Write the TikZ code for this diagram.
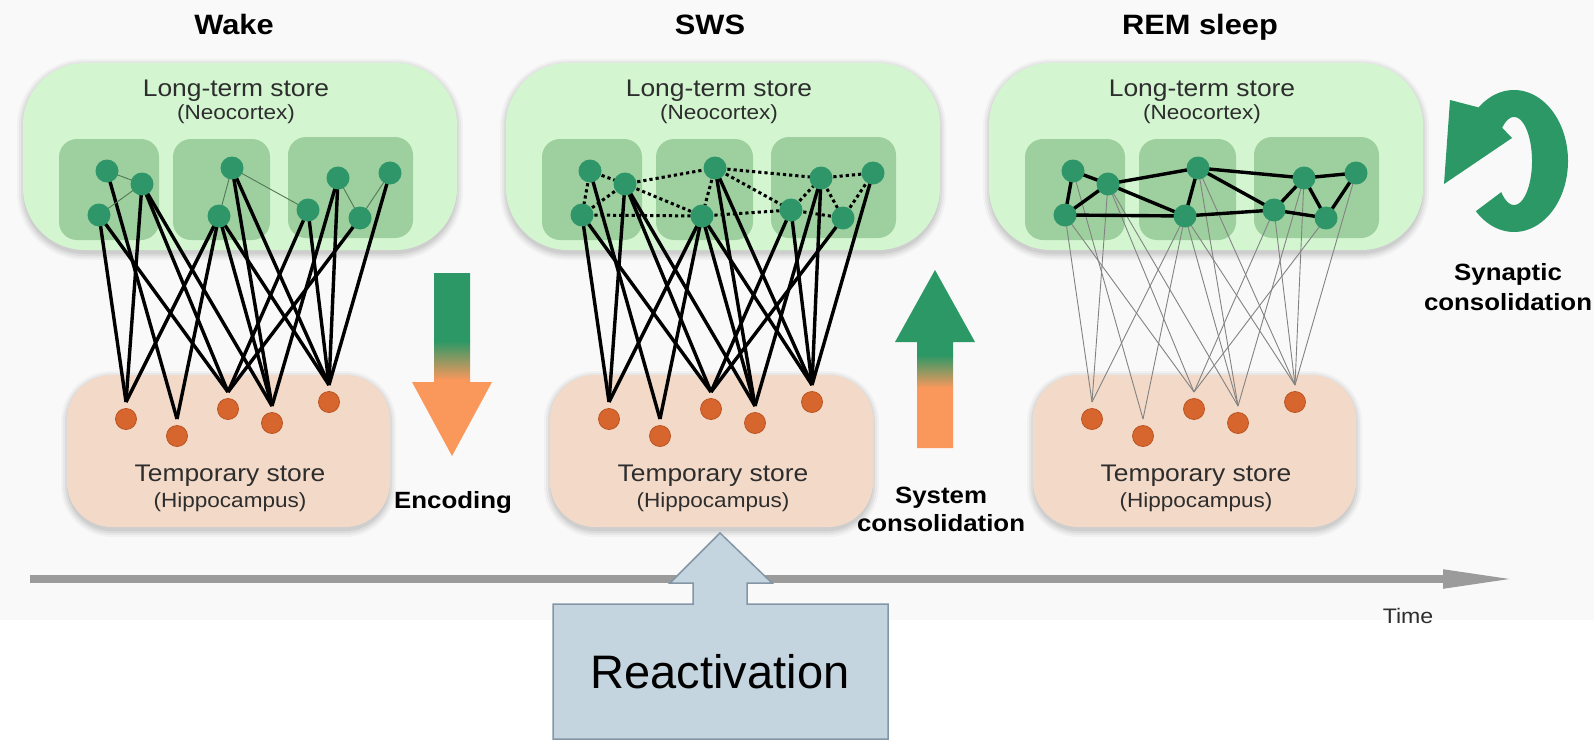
\documentclass[tikz,border=0pt]{standalone}
\usepackage{fontspec}
\setmainfont[FakeStretch=1.1]{Liberation Sans}
\newfontfamily\plainsans{Liberation Sans}
\usetikzlibrary{arrows.meta}
\pgfdeclarelayer{boxlayer}
\pgfdeclarelayer{edgelayer}
\pgfsetlayers{boxlayer,edgelayer,main}
\definecolor{bggray}{RGB}{249,249,249}
\definecolor{ltgreen}{RGB}{211,246,209}
\definecolor{midgreen}{RGB}{158,207,158}
\definecolor{ngreen}{RGB}{46,150,104}
\definecolor{nodeorange}{RGB}{214,102,45}
\definecolor{nodeorangeb}{RGB}{188,84,34}
\definecolor{ltorange}{RGB}{243,217,199}
\definecolor{agreen}{RGB}{44,152,102}
\definecolor{aorange}{RGB}{250,152,92}
\definecolor{axgray}{RGB}{155,155,155}
\definecolor{reacfill}{RGB}{197,213,223}
\definecolor{reacdraw}{RGB}{132,150,166}
\definecolor{txtgray}{RGB}{45,45,45}
\definecolor{thingray}{RGB}{130,130,130}
\definecolor{thingreen}{RGB}{80,120,85}
\tikzset{
  gnode/.style={circle, fill=ngreen, minimum size=23pt, inner sep=0pt},
  onode/.style={circle, fill=nodeorange, draw=nodeorangeb, line width=0.8pt, minimum size=21pt, inner sep=0pt},
  thickedge/.style={line width=3.4pt, black},
  dotedge/.style={line width=3pt, black, dash pattern=on 3.2pt off 3pt},
  remedge/.style={line width=3.4pt, black},
  thinedge/.style={line width=0.9pt, thingray},
  wakethin/.style={line width=0.9pt, thingreen},
  boxtitle/.style={font=\fontsize{24}{28}\selectfont, text=txtgray, anchor=base, inner sep=0pt},
  boxsub/.style={font=\fontsize{20.5}{24}\selectfont, text=txtgray, anchor=base, inner sep=0pt},
  boldlbl/.style={font=\bfseries\fontsize{23.5}{28}\selectfont, text=black, anchor=base, inner sep=0pt},
  ttl/.style={font=\bfseries\fontsize{28}{32}\selectfont, text=black, anchor=base, inner sep=0pt},
}
\newcommand\softshadow[5]{%
  \foreach \dd/\op in {6/0.03,4/0.04,2/0.05,0/0.06}{%
    \pgfmathsetmacro\rr{#5+\dd}%
    \fill[black,opacity=\op,rounded corners=\rr pt] ({#1-\dd},{#2-\dd+2}) rectangle ({#3+\dd},{#4+\dd+4});
  }}
\newcommand\panel[7]{%
\begin{scope}[xshift=#2pt]
\begin{pgfonlayer}{boxlayer}
  \softshadow{23}{63}{457}{250}{62}
  \fill[ltgreen, rounded corners=62pt] (23,63) rectangle (457,250);
  \fill[midgreen, rounded corners=18pt] (59,139) rectangle (159,240);
  \fill[midgreen, rounded corners=18pt] (173,139) rectangle (270,240);
  \fill[midgreen, rounded corners=18pt] (288,137) rectangle (413,238);
  \softshadow{67}{375}{390}{527}{45}
  \fill[ltorange, rounded corners=45pt] (67,375) rectangle (390,527);
\end{pgfonlayer}
\node[ttl] (#1ttl) at (#7,35) {#3};
\node[boxtitle] (#1lt) at (236,97) {Long-term store};
\node[boxsub] (#1nc) at (236,120) {(Neocortex)};
\node[boxtitle] (#1ts) at (230,481) {Temporary store};
\node[boxsub] (#1hc) at (230,507) {(Hippocampus)};
\foreach \i/\x/\y in {1/107/171,2/142/184,3/99/215,4/232/168,5/219/216,6/308/210,7/338/178,8/360/218,9/390/173}
  \node[gnode] (#1n\i) at (\x,\y) {};
\foreach \i/\x/\y in {1/126/419,2/177/436,3/228/409,4/272/423,5/329/402}{
  \node[onode] (#1o\i) at (\x,\y) {};
  \coordinate (#1t\i) at (\x,{\y-17});}
\begin{pgfonlayer}{edgelayer}
  \foreach \a/\b in {1/2,2/1,2/3,2/4,3/1,3/3,4/4,4/5,5/1,5/2,5/4,5/5,6/3,6/5,7/4,7/5,8/3,9/5}
    \draw[#4] (#1n\a.center) -- (#1t\b);
  \foreach \a/\b in {#6}
    \draw[#5] (#1n\a.center) -- (#1n\b.center);
\end{pgfonlayer}
\end{scope}}
\begin{document}
\begin{tikzpicture}[x=1pt,y=-1pt]
\useasboundingbox (0,0) rectangle (1594,741);
\begin{pgfonlayer}{boxlayer}
  \fill[white] (0,0) rectangle (1594,741);
  \fill[bggray] (0,0) rectangle (1594,620);
\end{pgfonlayer}

\panel{W}{0}{Wake}{thickedge}{wakethin}{1/2,3/2,4/5,4/6,7/8,8/9}{234}
\panel{S}{483}{SWS}{thickedge}{dotedge}{1/2,1/3,3/2,2/4,2/5,3/5,4/5,4/7,4/6,5/6,6/7,7/9,7/8,6/8,8/9}{227}
\panel{R}{966}{REM sleep}{thinedge}{remedge}{1/2,1/3,3/2,2/4,2/5,3/5,4/5,4/7,4/6,5/6,6/7,7/9,7/8,6/8,8/9}{234}

% Encoding arrow
\begin{scope}
  \clip (434,273) -- (470,273) -- (470,382) -- (492,382) -- (452,456) -- (412,382) -- (434,382) -- cycle;
  \fill[agreen] (405,265) rectangle (500,342);
  \shade[top color=agreen, bottom color=aorange] (405,341) rectangle (500,380);
  \fill[aorange] (405,379) rectangle (500,460);
\end{scope}
\node[boldlbl] (enc) at (453,508) {Encoding};

% System consolidation arrow
\begin{scope}
  \clip (935,270) -- (975,342) -- (953,342) -- (953,448) -- (917,448) -- (917,342) -- (895,342) -- cycle;
  \fill[agreen] (890,265) rectangle (980,356);
  \shade[top color=agreen, bottom color=aorange] (890,355) rectangle (980,388);
  \fill[aorange] (890,387) rectangle (980,450);
\end{scope}
\node[boldlbl] (sys1) at (941,503) {System};
\node[boldlbl] (sys2) at (941,531) {consolidation};

% Synaptic consolidation ring arrow
\fill[agreen] plot[domain=0:266,samples=90] ({1514+54*cos(135-\x)},{161+71*sin(135-\x)})
  -- (1450,100) -- (1444,184) -- (1512,138)
  -- plot[domain=-131:135,samples=90] ({1514+18*cos(\x)},{161+44*sin(\x)}) -- cycle;
\node[boldlbl] (syn1) at (1508,280) {Synaptic};
\node[boldlbl] (syn2) at (1508,310) {consolidation};

% Time axis
\coordinate (tstart) at (30,579);
\coordinate (tend) at (1517,579);
\draw[line width=8pt, axgray, -{Triangle[length=74pt 0,width=17pt 0]}] (tstart) -- (tend);
\node[font=\fontsize{21}{24}\selectfont, text=txtgray, anchor=base, inner sep=0pt] (time) at (1408,623) {Time};

% Reactivation
\filldraw[fill=reacfill, draw=reacdraw, line width=1.5pt]
  (553,739) -- (553,604) -- (693,604) -- (693,583) -- (670,583) -- (720,533) -- (772,583)
  -- (747,583) -- (747,604) -- (888,604) -- (888,739) -- cycle;
\node[font=\plainsans\fontsize{47}{54}\selectfont, text=black, anchor=base, inner sep=0pt] (reac) at (720,688) {Reactivation};
\end{tikzpicture}
\end{document}
